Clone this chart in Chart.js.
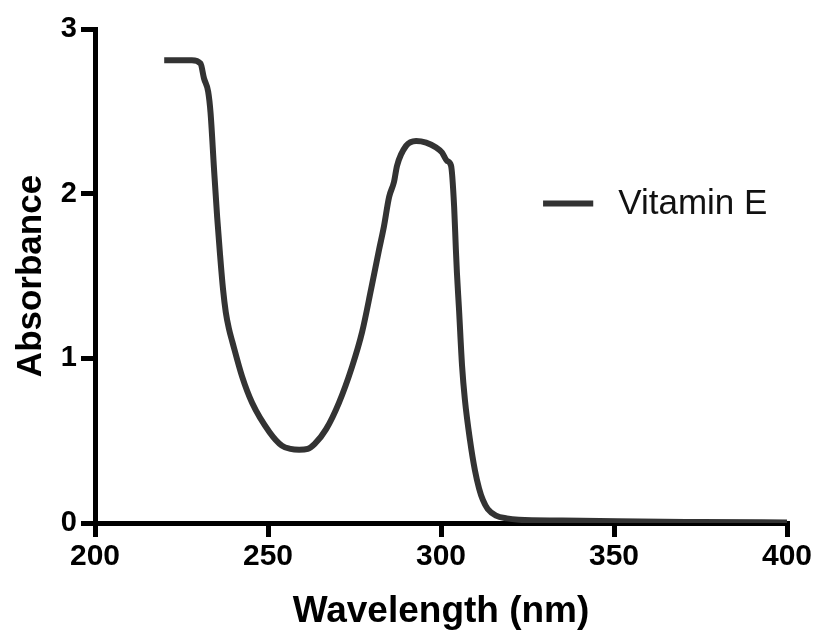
<!DOCTYPE html>
<html>
<head>
<meta charset="utf-8">
<title>Vitamin E absorbance</title>
<script src="https://cdn.jsdelivr.net/npm/chart.js@4.4.1/dist/chart.umd.min.js"></script>
<style>
  html, body { margin: 0; padding: 0; background: #fff; }
  #spectrum { display: block; }
</style>
</head>
<body>
<canvas id="spectrum" width="815" height="634"></canvas>
<script>
// UV spectrum, Vitamin E
const seriesLabel = 'Vitamin E';
const wavelengths = [
    220, 228, 230.5, 231.5, 232.7, 233.4, 234.4, 235.3, 236.1, 237,
    237.8, 238.7, 239.7, 242.5, 245.4, 250.5, 254, 256.5, 259, 261.5,
    263.5, 266.8, 270.5, 274.3, 277.2, 279.8, 282.1, 283.5, 285, 286.4,
    287.3, 289.9, 292.8, 295.7, 298.6, 300.3, 301.7, 302.9, 303.8, 304.3,
    304.6, 305.2, 306.1, 306.9, 308.4, 309.8, 311, 312.1, 313.5, 315.9,
    319, 322.5, 335, 351, 375, 400
];
const absorbance = [
    2.81, 2.81, 2.79, 2.70, 2.62, 2.49, 2.15, 1.86, 1.64, 1.42,
    1.28, 1.18, 1.10, 0.89, 0.73, 0.55, 0.47, 0.45, 0.445, 0.45,
    0.48, 0.57, 0.73, 0.95, 1.16, 1.42, 1.66, 1.80, 1.98, 2.07,
    2.17, 2.29, 2.32, 2.31, 2.28, 2.25, 2.20, 2.17, 1.92, 1.66,
    1.52, 1.30, 0.95, 0.75, 0.50, 0.32, 0.21, 0.14, 0.085, 0.045,
    0.028, 0.02, 0.015, 0.01, 0.006, 0.003
];
const xTicks = [200, 250, 300, 350, 400];
const yTicks = [0, 1, 2, 3];

const FONT = '"Liberation Sans", Arial, Helvetica, sans-serif';
const LINE_COLOR = '#333333';

// legend drawn inside the plot, anchored to data coordinates
const legendInPlot = {
    id: 'legendInPlot',
    afterDatasetsDraw(chart) {
        const { ctx, scales: { x, y } } = chart;
        const x0 = x.getPixelForValue(329.5);
        const x1 = x.getPixelForValue(344);
        const yy = y.getPixelForValue(1.94);
        ctx.save();
        ctx.strokeStyle = LINE_COLOR;
        ctx.lineWidth = 6;
        ctx.beginPath();
        ctx.moveTo(x0, yy);
        ctx.lineTo(x1, yy);
        ctx.stroke();
        ctx.fillStyle = '#111';
        ctx.font = '35px ' + FONT;
        ctx.textBaseline = 'middle';
        ctx.textAlign = 'left';
        ctx.fillText(chart.data.datasets[0].label, x1 + 25, yy + 1);
        ctx.restore();
    }
};

const points = wavelengths.map((w, i) => ({ x: w, y: absorbance[i] }));

new Chart(document.getElementById('spectrum'), {
    type: 'line',
    data: {
        datasets: [{
            label: seriesLabel,
            data: points,
            borderColor: LINE_COLOR,
            borderWidth: 6,
            cubicInterpolationMode: 'monotone',
            pointRadius: 0,
            fill: false
        }]
    },
    options: {
        responsive: false,
        animation: false,
        layout: { padding: { left: 0, right: 28, top: 29, bottom: 0 } },
        plugins: {
            legend: { display: false },
            tooltip: { enabled: false }
        },
        scales: {
            x: {
                type: 'linear',
                min: 200,
                max: 400,
                afterBuildTicks: s => { s.ticks = xTicks.map(v => ({ value: v })); },
                afterFit: s => { s.height = 111; },
                border: { display: true, color: '#000', width: 5 },
                grid: { drawOnChartArea: false, drawTicks: true, tickLength: 14, lineWidth: 5, color: '#000' },
                ticks: { color: '#000', padding: 2, font: { family: FONT, size: 30, weight: 'bold' } },
                title: {
                    display: true,
                    text: 'Wavelength (nm)',
                    color: '#000',
                    padding: { top: 0, bottom: 0 },
                    font: { family: FONT, size: 37, weight: 'bold' }
                }
            },
            y: {
                type: 'linear',
                min: 0,
                max: 3,
                afterBuildTicks: s => { s.ticks = yTicks.map(v => ({ value: v })); },
                afterFit: s => { s.width = 95; },
                border: { display: true, color: '#000', width: 5 },
                grid: { drawOnChartArea: false, drawTicks: true, tickLength: 14, lineWidth: 5, color: '#000' },
                ticks: { color: '#000', padding: 4, font: { family: FONT, size: 29, weight: 'bold' } },
                title: {
                    display: true,
                    text: 'Absorbance',
                    color: '#000',
                    padding: { top: 10, bottom: 0 },
                    font: { family: FONT, size: 35, weight: 'bold' }
                }
            }
        }
    },
    plugins: [legendInPlot]
});
</script>
</body>
</html>
